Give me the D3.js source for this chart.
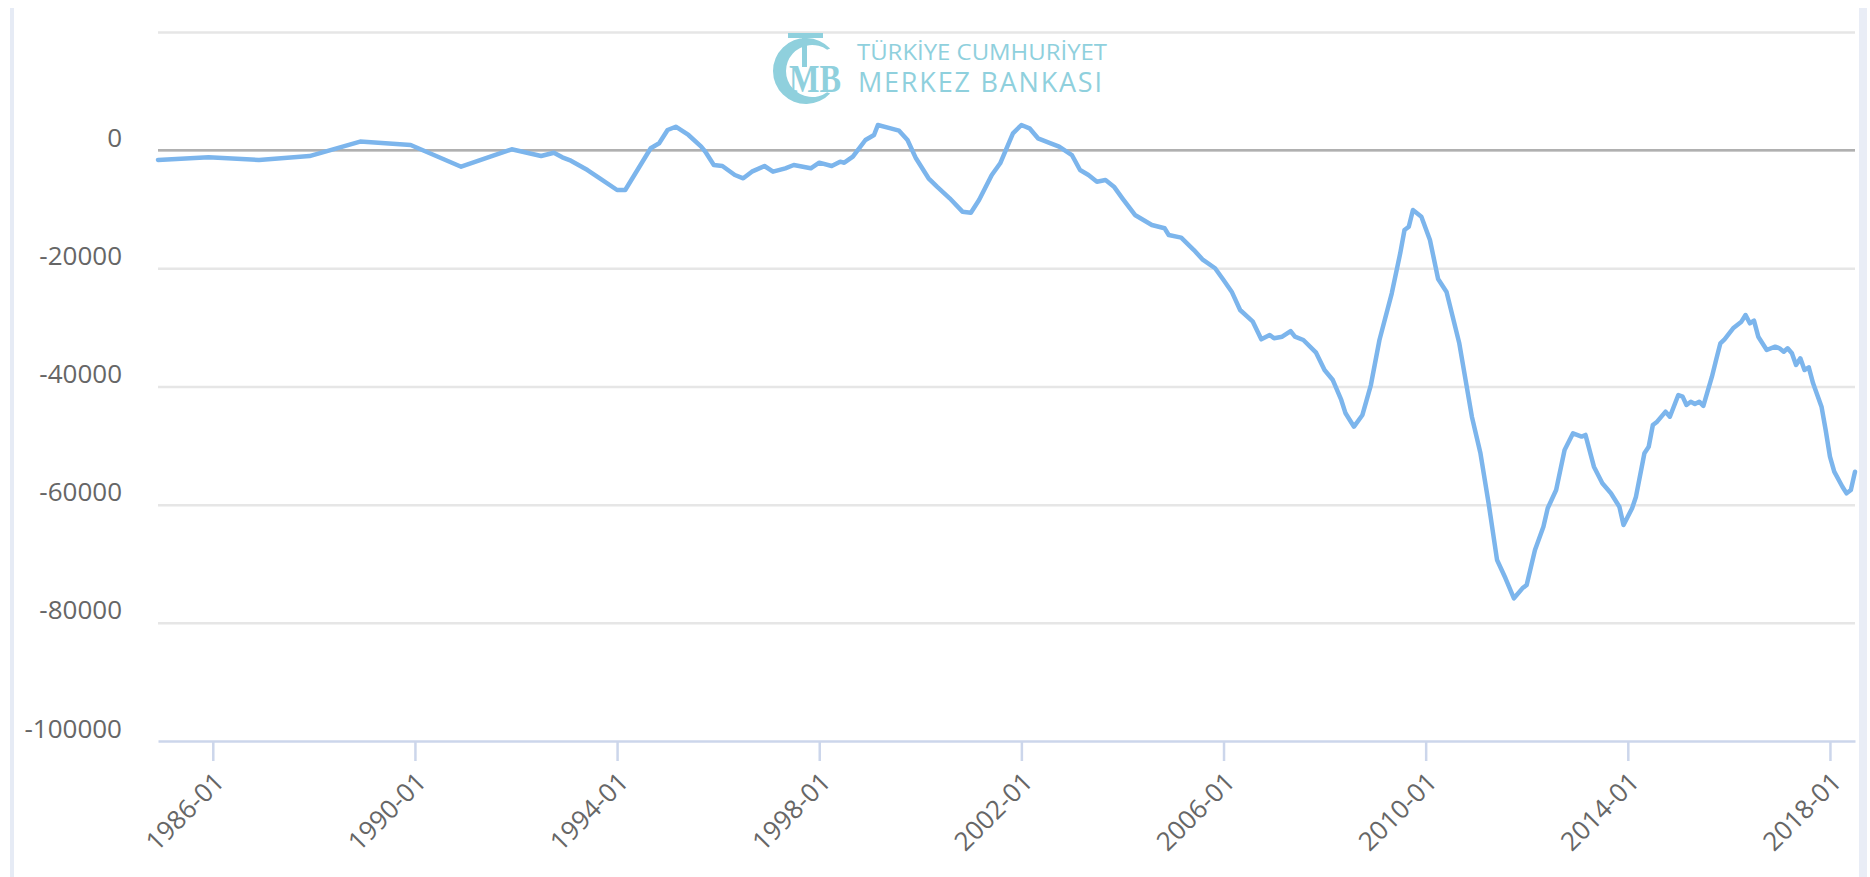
<!DOCTYPE html>
<html>
<head>
<meta charset="utf-8">
<script src="https://cdnjs.cloudflare.com/ajax/libs/d3/7.8.5/d3.min.js"></script>
<style>
  body { margin: 0; background: #fff; }
  svg { display: block; font-family: "Open Sans", sans-serif; }
</style>
</head>
<body>
<div id="chart"></div>
<script>
// months (YYYY-MM) and the 12-month value
var months = ['1984-12','1985-12','1986-12','1987-12','1988-12','1989-12','1990-12','1991-12',
  '1992-07','1992-10','1992-12','1993-02','1993-06','1993-09','1994-01','1994-03','1994-09','1994-11',
  '1995-01','1995-03','1995-06','1995-09','1995-10','1995-12',
  '1996-02','1996-05','1996-07','1996-09','1996-12',
  '1997-02','1997-05','1997-07','1997-11',
  '1998-01','1998-04','1998-06','1998-07','1998-09','1998-12',
  '1999-02','1999-03','1999-06','1999-08','1999-10','1999-12',
  '2000-03','2000-05','2000-08','2000-11',
  '2001-01','2001-03','2001-06','2001-08','2001-11',
  '2002-01','2002-03','2002-05','2002-08','2002-10',
  '2003-01','2003-03','2003-05','2003-07','2003-09','2003-11',
  '2004-01','2004-04','2004-08','2004-11','2004-12',
  '2005-03','2005-06','2005-08','2005-11',
  '2006-01','2006-03','2006-05','2006-08','2006-10','2006-12',
  '2007-01','2007-03','2007-05','2007-06','2007-08','2007-11',
  '2008-01','2008-03','2008-05','2008-06','2008-08','2008-10','2008-12',
  '2009-02','2009-05','2009-07','2009-08','2009-09','2009-10','2009-12',
  '2010-02','2010-04','2010-06','2010-09','2010-12',
  '2011-02','2011-04','2011-06','2011-08','2011-10','2011-12',
  '2012-01','2012-03','2012-05','2012-06','2012-08','2012-10','2012-12',
  '2013-02','2013-03','2013-05','2013-07','2013-09','2013-11','2013-12',
  '2014-02','2014-03','2014-05','2014-06','2014-07','2014-08','2014-10','2014-11',
  '2015-01','2015-02','2015-03','2015-04','2015-05','2015-06','2015-07','2015-09','2015-10','2015-11','2015-12',
  '2016-02','2016-04','2016-05','2016-06','2016-07','2016-08','2016-10','2016-12',
  '2017-01','2017-02','2017-03','2017-04','2017-05','2017-06','2017-07','2017-08','2017-09','2017-11','2017-12',
  '2018-01','2018-02','2018-04','2018-05','2018-06','2018-07'];

var values = [-1650,-1200,-1650,-1000,1450,870,-2800,150,
  -990,-430,-1210,-1780,-3360,-4800,-6740,-6740,320,1160,
  3410,3970,2570,590,-260,-2510,
  -2680,-4200,-4760,-3640,-2680,
  -3640,-3070,-2510,-3070,
  -2120,-2680,-1950,-2120,-1100,1720,
  2570,4260,3700,3300,1720,-1380,
  -4760,-6180,-8150,-10410,
  -10580,-8430,-4200,-2220,2860,
  4260,3700,2010,1160,590,
  -820,-3360,-4200,-5340,-5050,-6180,
  -8150,-10970,-12670,-13220,-14360,
  -14800,-16900,-18470,-19990,
  -21970,-23950,-27050,-29030,-32010,-31280,
  -31840,-31570,-30610,-31570,-32130,-34280,
  -37210,-38900,-42280,-44540,-46800,-44820,-39750,
  -32130,-24230,-17460,-13510,-12950,-10130,-11260,
  -15200,-21800,-24000,-32690,-45110,
  -51300,-59770,-69360,-72460,-75850,-74160,
  -73590,-67670,-63730,-60610,-57520,-50750,-47920,
  -48480,-48200,-53570,-56380,-58080,-60340,-63440,
  -60600,-58650,-51300,-50190,-46520,-45950,-44260,-45110,
  -41440,-41720,-43130,-42570,-42960,-42570,-43290,-38340,-35510,-32690,-32010,
  -30150,-29030,-27900,-29300,-28860,-31570,-33820,-33260,
  -33530,-34110,-33530,-34380,-36360,-35230,-37210,-36750,-39460,-43420,-47360,
  -51880,-54420,-56960,-58080,-57520,-54420];

var yTicks = [20000, 0, -20000, -40000, -60000, -80000, -100000];
var yTickLabels = ['', '0', '-20000', '-40000', '-60000', '-80000', '-100000'];
var xTickLabels = ['1986-01','1990-01','1994-01','1998-01','2002-01','2006-01','2010-01','2014-01','2018-01'];
var xStart = '1984-12', xEnd = '2018-07';

(function(d3) {
  'use strict';
  var width = 1870;
  var height = 877;
  var left = 158, right = 1855, top = 32, bottom = 741;
  var parse = d3.timeParse('%Y-%m');

  var data = months.map(function(m, i) {
    return { date: parse(m), value: values[i] };
  });

  var svg = d3.select('#chart')
    .append('svg')
      .attr('width', width)
      .attr('height', height);

  // page borders left and right
  svg.append('rect').attr('x', 10).attr('y', 8).attr('width', 4).attr('height', height - 8).attr('fill', '#e6ebf5');
  svg.append('rect').attr('x', 1859).attr('y', 8).attr('width', 8).attr('height', height - 8).attr('fill', '#e9edf6');

  var x = d3.scaleTime()
    .domain([parse(xStart), parse(xEnd)])
    .range([left, right]);
  var y = d3.scaleLinear()
    .domain([-100000, 20000])
    .range([bottom, top]);

  // y grid + labels (hyphen, no thousands separator, top tick unlabelled)
  var yAxis = svg.append('g')
    .attr('transform', 'translate(' + left + ',0)')
    .call(d3.axisLeft(y)
      .tickValues(yTicks)
      .tickFormat(function(d, i) { return yTickLabels[i]; })
      .tickSize(-(right - left))
      .tickPadding(36));
  yAxis.select('.domain').remove();
  yAxis.selectAll('.tick line')
    .attr('stroke', function(d) { return d === -100000 ? 'none' : '#e6e6e6'; })
    .attr('stroke-width', 2.5);
  yAxis.selectAll('.tick text')
    .attr('dy', -4)
    .attr('fill', '#666666')
    .style('font-size', '26px')
    .style('font-family', '"Open Sans", sans-serif');

  // zero line
  svg.append('line')
    .attr('x1', left).attr('x2', right)
    .attr('y1', y(0)).attr('y2', y(0))
    .attr('stroke', '#b0b0b0')
    .attr('stroke-width', 2.5);

  // logo: C ring + T drawn as shapes, MB and the bank name as text
  var logoColor = '#8fd0dd';
  var logo = svg.append('g').attr('fill', logoColor);
  // outer circle minus an inner circle shifted right -> thick left side like a serif C
  var ringPath = d3.path();
  ringPath.arc(806, 71, 33, 0.75, 2 * Math.PI - 0.75, false);
  ringPath.arc(812, 71, 26, 2 * Math.PI - 0.95, 0.95, true);
  ringPath.closePath();
  logo.append('path').attr('d', ringPath.toString());
  logo.append('rect').attr('x', 788).attr('y', 33).attr('width', 35).attr('height', 5);
  logo.append('rect').attr('x', 802).attr('y', 33).attr('width', 5).attr('height', 34);
  logo.append('text').attr('x', 789).attr('y', 92)
    .attr('textLength', 52).attr('lengthAdjust', 'spacingAndGlyphs')
    .style('font-family', '"Liberation Serif", serif').style('font-size', '40px').style('font-weight', 'bold').text('MB');
  logo.append('text').attr('x', 857).attr('y', 60)
    .attr('textLength', 250).attr('lengthAdjust', 'spacingAndGlyphs')
    .style('font-size', '21px').text('TÜRKİYE CUMHURİYET');
  logo.append('text').attr('x', 858).attr('y', 92)
    .attr('textLength', 244).attr('lengthAdjust', 'spacing')
    .style('font-size', '27px').text('MERKEZ BANKASI');

  // x axis
  var xAxis = svg.append('g')
    .attr('transform', 'translate(0,' + bottom + ')')
    .call(d3.axisBottom(x)
      .tickValues(xTickLabels.map(parse))
      .tickFormat(d3.timeFormat('%Y-%m'))
      .tickSize(20)
      .tickSizeOuter(0));
  xAxis.select('.domain').attr('stroke', '#ccd6eb').attr('stroke-width', 2.5);
  xAxis.selectAll('.tick line').attr('stroke', '#ccd6eb').attr('stroke-width', 2.5);
  xAxis.selectAll('.tick text')
    .attr('x', 0).attr('y', 0)
    .attr('dy', '0.35em')
    .attr('transform', 'translate(6,36) rotate(-45)')
    .attr('text-anchor', 'end')
    .attr('fill', '#666666')
    .style('font-size', '26px')
    .style('font-family', '"Open Sans", sans-serif');

  // the series
  var line = d3.line()
    .x(function(d) { return x(d.date); })
    .y(function(d) { return y(d.value); });
  svg.append('path')
    .datum(data)
    .attr('d', line)
    .attr('fill', 'none')
    .attr('stroke', '#7cb5ec')
    .attr('stroke-width', 4.5)
    .attr('stroke-linejoin', 'round')
    .attr('stroke-linecap', 'round');
})(window.d3);
</script>
</body>
</html>
